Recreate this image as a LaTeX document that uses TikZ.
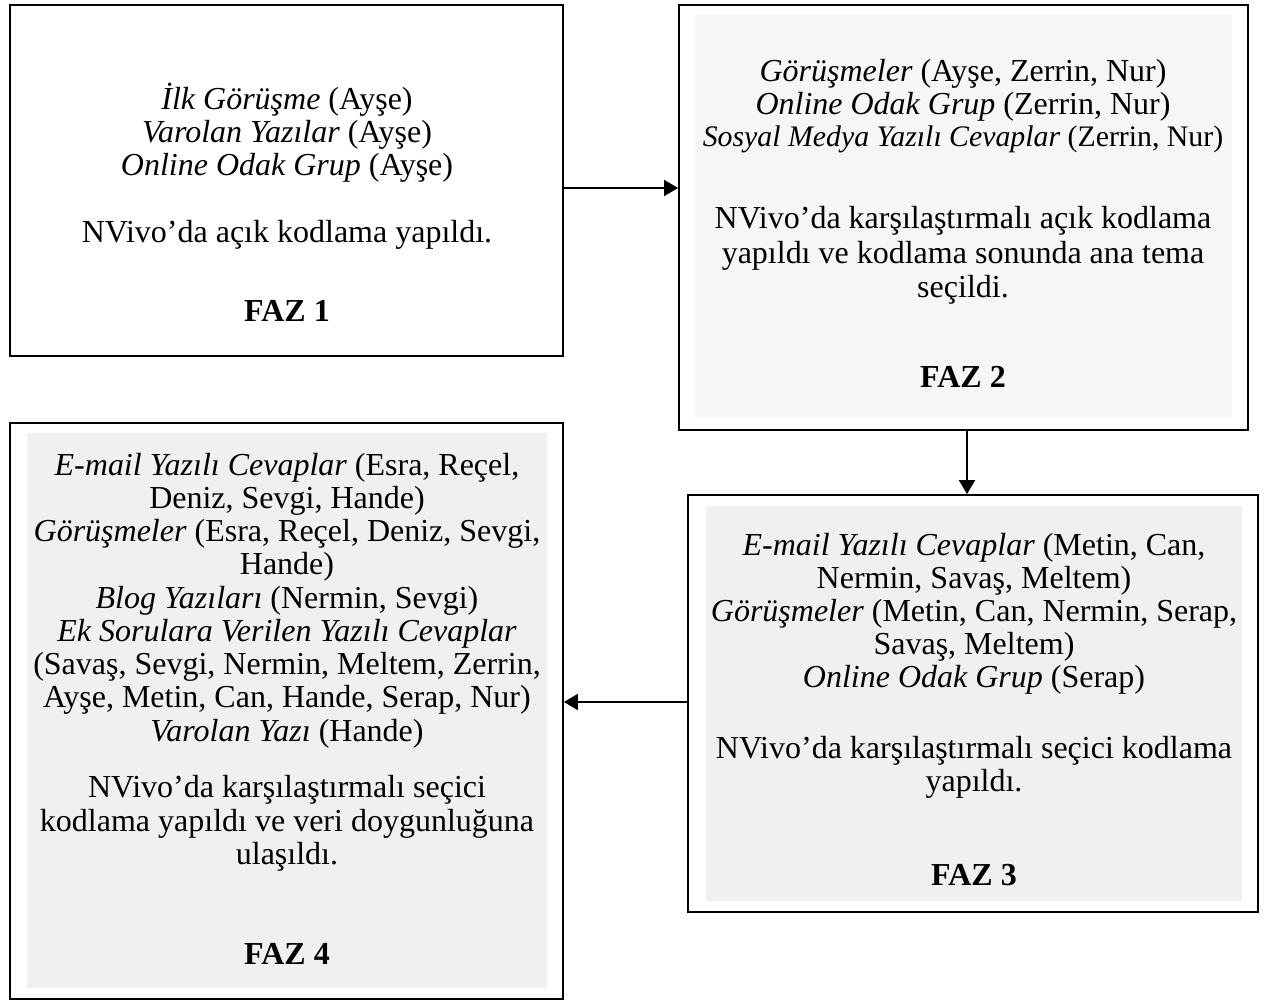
\documentclass[tikz,border=0pt]{standalone}
\usepackage{fontspec}
\setmainfont{Liberation Serif}
\usetikzlibrary{arrows.meta}
\definecolor{shadeA}{RGB}{246,246,246}
\definecolor{shadeB}{RGB}{240,240,240}
\begin{document}
\begin{tikzpicture}[x=1pt,y=-1pt,
  box/.style={draw=black,line width=1.8pt,fill=white,inner sep=0pt,rectangle},
  shade/.style={fill=#1,draw=none,inner sep=0pt,rectangle},
  ln/.style={anchor=base,inner sep=0pt,font=\fontsize{32}{34}\selectfont},
  sm/.style={anchor=base,inner sep=0pt,font=\fontsize{29.8}{32}\selectfont},
  ttl/.style={anchor=base,inner sep=0pt,font=\fontsize{32}{34}\selectfont\bfseries},
  arr/.style={line width=1.8pt,-{Triangle[length=14pt,width=16pt]}}]
\useasboundingbox (0,0) rectangle (1272,1003);
% boxes
\node[box,minimum width=553pt,minimum height=351pt] (f1) at (286.5,180.5) {};
\node[box,minimum width=569pt,minimum height=425pt] (f2) at (963.5,217.5) {};
\node[box,minimum width=570pt,minimum height=417pt] (f3) at (973,703.5) {};
\node[box,minimum width=553pt,minimum height=576pt] (f4) at (286.5,711) {};
\node[shade=shadeA,minimum width=537pt,minimum height=403pt] (g2) at (963.5,216.5) {};
\node[shade=shadeB,minimum width=536pt,minimum height=395pt] (g3) at (974,703.5) {};
\node[shade=shadeB,minimum width=520pt,minimum height=555pt] (g4) at (287,710.5) {};
% FAZ 1
\node[ln] (a1) at (287,110) {\textit{İlk Görüşme} (Ayşe)};
\node[ln] (a2) at (287,143) {\textit{Varolan Yazılar} (Ayşe)};
\node[ln] (a3) at (287,176) {\textit{Online Odak Grup} (Ayşe)};
\node[ln] (a4) at (287,243) {NVivo’da açık kodlama yapıldı.};
\node[ttl] (a5) at (287,321) {FAZ 1};
% FAZ 2
\node[ln] (b1) at (963,82) {\textit{Görüşmeler} (Ayşe, Zerrin, Nur)};
\node[ln] (b2) at (963,115) {\textit{Online Odak Grup} (Zerrin, Nur)};
\node[sm] (b3) at (963,147) {\textit{Sosyal Medya Yazılı Cevaplar} (Zerrin, Nur)};
\node[ln] (b4) at (963,229) {NVivo’da karşılaştırmalı açık kodlama};
\node[ln] (b5) at (963,263) {yapıldı ve kodlama sonunda ana tema};
\node[ln] (b6) at (963,297) {seçildi.};
\node[ttl] (b7) at (963,387) {FAZ 2};
% FAZ 3
\node[ln] (c1) at (974,555) {\textit{E-mail Yazılı Cevaplar} (Metin, Can,};
\node[ln] (c2) at (974,588) {Nermin, Savaş, Meltem)};
\node[ln] (c3) at (974,621) {\textit{Görüşmeler} (Metin, Can, Nermin, Serap,};
\node[ln] (c4) at (974,654) {Savaş, Meltem)};
\node[ln] (c5) at (974,687) {\textit{Online Odak Grup} (Serap)};
\node[ln] (c6) at (974,758) {NVivo’da karşılaştırmalı seçici kodlama};
\node[ln] (c7) at (974,791) {yapıldı.};
\node[ttl] (c8) at (974,885) {FAZ 3};
% FAZ 4
\node[ln] (d1) at (287,475) {\textit{E-mail Yazılı Cevaplar} (Esra, Reçel,};
\node[ln] (d2) at (287,508) {Deniz, Sevgi, Hande)};
\node[ln] (d3) at (287,541) {\textit{Görüşmeler} (Esra, Reçel, Deniz, Sevgi,};
\node[ln] (d4) at (287,574) {Hande)};
\node[ln] (d5) at (287,608) {\textit{Blog Yazıları} (Nermin, Sevgi)};
\node[ln] (d6) at (287,641) {\textit{Ek Sorulara Verilen Yazılı Cevaplar}};
\node[ln] (d7) at (287,674) {(Savaş, Sevgi, Nermin, Meltem, Zerrin,};
\node[ln] (d8) at (287,707) {Ayşe, Metin, Can, Hande, Serap, Nur)};
\node[ln] (d9) at (287,741) {\textit{Varolan Yazı} (Hande)};
\node[ln] (d10) at (287,797) {NVivo’da karşılaştırmalı seçici};
\node[ln] (d11) at (287,831) {kodlama yapıldı ve veri doygunluğuna};
\node[ln] (d12) at (287,864) {ulaşıldı.};
\node[ttl] (d13) at (287,964) {FAZ 4};
% arrows
\coordinate (y1) at (0,188);
\coordinate (x2) at (967,0);
\coordinate (y3) at (0,702);
\draw[arr] (f1.east |- y1) -- (f2.west |- y1);
\draw[arr] (f2.south -| x2) -- (f3.north -| x2);
\draw[arr] (f3.west |- y3) -- (f4.east |- y3);
\end{tikzpicture}
\end{document}
